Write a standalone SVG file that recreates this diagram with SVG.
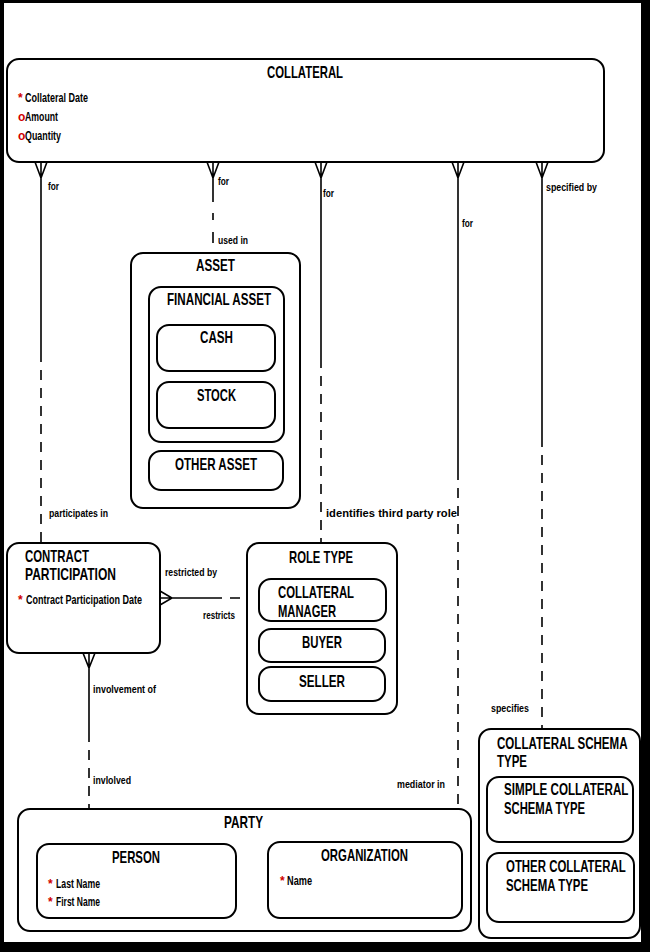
<svg xmlns="http://www.w3.org/2000/svg" width="650" height="952" viewBox="0 0 650 952">
<style>
.box{fill:#fff;stroke:#000;stroke-width:2}
.ln{fill:none;stroke:#000;stroke-width:1.6}
.dl{fill:none;stroke:#000;stroke-width:1.6;stroke-dasharray:10 8}
text{font-family:"Liberation Sans Narrow","Liberation Sans",Arial,sans-serif;fill:#000}
.h{font-size:17px;font-weight:bold}
.a{font-size:12px;font-weight:bold}
.l{font-size:11px;font-weight:bold}
.r{fill:#d00000}
</style>
<rect width="650" height="952" fill="#000"/>
<rect x="4" y="3" width="637" height="939" fill="#fff"/>

<g id="connectors">
  <g id="c-collateral-cp">
    <path class="ln" d="M35,162 L41,178 L47,162 M41,162 V352"/>
    <path class="dl" d="M41,352 V543"/>
    <text class="l" x="48" y="190" textLength="11" lengthAdjust="spacingAndGlyphs">for</text>
    <text class="l" x="49" y="517" textLength="59" lengthAdjust="spacingAndGlyphs">participates in</text>
  </g>
  <g id="c-collateral-asset">
    <path class="ln" d="M207,162 L213,178 L219,162 M213,162 V202 M213,213 V220 M213,232 V243"/>
    <text class="l" x="218" y="185" textLength="11" lengthAdjust="spacingAndGlyphs">for</text>
    <text class="l" x="218" y="244" textLength="30" lengthAdjust="spacingAndGlyphs">used in</text>
  </g>
  <g id="c-collateral-role">
    <path class="ln" d="M315,162 L321,178 L327,162 M321,162 V358"/>
    <path class="dl" d="M321,358 V543"/>
    <text class="l" x="323" y="197" textLength="11" lengthAdjust="spacingAndGlyphs">for</text>
    <text class="l" x="326" y="517" textLength="131" lengthAdjust="spacingAndGlyphs">identifies third party role</text>
  </g>
  <g id="c-collateral-party">
    <path class="ln" d="M452,162 L458,178 L464,162 M458,162 V470"/>
    <path class="dl" d="M458,470 V808"/>
    <text class="l" x="462" y="227" textLength="11" lengthAdjust="spacingAndGlyphs">for</text>
    <text class="l" x="397" y="788" textLength="48" lengthAdjust="spacingAndGlyphs">mediator in</text>
  </g>
  <g id="c-collateral-schema">
    <path class="ln" d="M536,162 L542,178 L548,162 M542,162 V437"/>
    <path class="dl" d="M542,437 V729"/>
    <text class="l" x="546" y="191" textLength="51" lengthAdjust="spacingAndGlyphs">specified by</text>
    <text class="l" x="491" y="712" textLength="38" lengthAdjust="spacingAndGlyphs">specifies</text>
  </g>
  <g id="c-cp-role">
    <path class="ln" d="M160,591 L172,598 L160,605 M160,598 H212"/>
    <path class="dl" d="M212,598 H247"/>
    <text class="l" x="165" y="576" textLength="52" lengthAdjust="spacingAndGlyphs">restricted by</text>
    <text class="l" x="203" y="619" textLength="32" lengthAdjust="spacingAndGlyphs">restricts</text>
  </g>
  <g id="c-cp-party">
    <path class="ln" d="M83,653 L89,668 L95,653 M89,653 V732"/>
    <path class="dl" d="M89,732 V809"/>
    <text class="l" x="93" y="693" textLength="63" lengthAdjust="spacingAndGlyphs">involvement of</text>
    <text class="l" x="93" y="784" textLength="38" lengthAdjust="spacingAndGlyphs">invlolved</text>
  </g>
</g>

<g id="collateral">
  <rect class="box" x="7" y="59" width="597" height="103" rx="12"/>
  <text class="h" x="267" y="78" textLength="76" lengthAdjust="spacingAndGlyphs">COLLATERAL</text>
  <text class="a r" x="18" y="102">*</text>
  <text class="a" x="25" y="102" textLength="63" lengthAdjust="spacingAndGlyphs">Collateral Date</text>
  <text class="a r" x="18" y="121">o</text>
  <text class="a" x="25" y="121" textLength="33" lengthAdjust="spacingAndGlyphs">Amount</text>
  <text class="a r" x="18" y="140">o</text>
  <text class="a" x="25" y="140" textLength="36" lengthAdjust="spacingAndGlyphs">Quantity</text>
</g>

<g id="asset">
  <rect class="box" x="131" y="253" width="169" height="255" rx="12"/>
  <text class="h" x="196" y="271" textLength="39" lengthAdjust="spacingAndGlyphs">ASSET</text>
  <g id="financial-asset">
    <rect class="box" x="149" y="287" width="135" height="155" rx="12"/>
    <text class="h" x="167" y="305" textLength="104" lengthAdjust="spacingAndGlyphs">FINANCIAL ASSET</text>
  </g>
  <g id="cash">
    <rect class="box" x="157" y="325" width="118" height="46" rx="12"/>
    <text class="h" x="200" y="343" textLength="33" lengthAdjust="spacingAndGlyphs">CASH</text>
  </g>
  <g id="stock">
    <rect class="box" x="157" y="382" width="118" height="46" rx="12"/>
    <text class="h" x="197" y="401" textLength="39" lengthAdjust="spacingAndGlyphs">STOCK</text>
  </g>
  <g id="other-asset">
    <rect class="box" x="149" y="451" width="134" height="39" rx="12"/>
    <text class="h" x="175" y="470" textLength="82" lengthAdjust="spacingAndGlyphs">OTHER ASSET</text>
  </g>
</g>

<g id="contract-participation">
  <rect class="box" x="7" y="543" width="153" height="110" rx="12"/>
  <text class="h" x="25" y="562" textLength="64" lengthAdjust="spacingAndGlyphs">CONTRACT</text>
  <text class="h" x="25" y="580" textLength="91" lengthAdjust="spacingAndGlyphs">PARTICIPATION</text>
  <text class="a r" x="18" y="604">*</text>
  <text class="a" x="26" y="604" textLength="116" lengthAdjust="spacingAndGlyphs">Contract Participation Date</text>
</g>

<g id="role-type">
  <rect class="box" x="247" y="543" width="150" height="171" rx="12"/>
  <text class="h" x="289" y="563" textLength="64" lengthAdjust="spacingAndGlyphs">ROLE TYPE</text>
  <g id="collateral-manager">
    <rect class="box" x="259" y="579" width="127" height="42" rx="12"/>
    <text class="h" x="278" y="598" textLength="76" lengthAdjust="spacingAndGlyphs">COLLATERAL</text>
    <text class="h" x="278" y="617" textLength="58" lengthAdjust="spacingAndGlyphs">MANAGER</text>
  </g>
  <g id="buyer">
    <rect class="box" x="259" y="629" width="126" height="33" rx="12"/>
    <text class="h" x="302" y="648" textLength="40" lengthAdjust="spacingAndGlyphs">BUYER</text>
  </g>
  <g id="seller">
    <rect class="box" x="259" y="667" width="126" height="34" rx="12"/>
    <text class="h" x="299" y="687" textLength="46" lengthAdjust="spacingAndGlyphs">SELLER</text>
  </g>
</g>

<g id="party">
  <rect class="box" x="18" y="809" width="453" height="122" rx="12"/>
  <text class="h" x="224" y="828" textLength="39" lengthAdjust="spacingAndGlyphs">PARTY</text>
  <g id="person">
    <rect class="box" x="37" y="844" width="199" height="74" rx="12"/>
    <text class="h" x="112" y="863" textLength="48" lengthAdjust="spacingAndGlyphs">PERSON</text>
    <text class="a r" x="48" y="888">*</text>
    <text class="a" x="56" y="888" textLength="44" lengthAdjust="spacingAndGlyphs">Last Name</text>
    <text class="a r" x="48" y="906">*</text>
    <text class="a" x="56" y="906" textLength="44" lengthAdjust="spacingAndGlyphs">First Name</text>
  </g>
  <g id="organization">
    <rect class="box" x="268" y="842" width="194" height="76" rx="12"/>
    <text class="h" x="321" y="861" textLength="87" lengthAdjust="spacingAndGlyphs">ORGANIZATION</text>
    <text class="a r" x="280" y="885">*</text>
    <text class="a" x="287" y="885" textLength="25" lengthAdjust="spacingAndGlyphs">Name</text>
  </g>
</g>

<g id="collateral-schema-type">
  <rect class="box" x="479" y="729" width="161" height="209" rx="12"/>
  <text class="h" transform="translate(497,749) scale(0.68,1)" x="0" y="0" textLength="192" lengthAdjust="spacingAndGlyphs">COLLATERAL SCHEMA</text>
  <text class="h" x="497" y="767" textLength="30" lengthAdjust="spacingAndGlyphs">TYPE</text>
  <g id="simple-collateral-schema-type">
    <rect class="box" x="487" y="777" width="146" height="65" rx="12"/>
    <text class="h" transform="translate(504,795) scale(0.68,1)" x="0" y="0" textLength="183" lengthAdjust="spacingAndGlyphs">SIMPLE COLLATERAL</text>
    <text class="h" x="504" y="814" textLength="81" lengthAdjust="spacingAndGlyphs">SCHEMA TYPE</text>
  </g>
  <g id="other-collateral-schema-type">
    <rect class="box" x="487" y="853" width="147" height="69" rx="12"/>
    <text class="h" transform="translate(506,872) scale(0.68,1)" x="0" y="0" textLength="176" lengthAdjust="spacingAndGlyphs">OTHER COLLATERAL</text>
    <text class="h" x="506" y="891" textLength="82" lengthAdjust="spacingAndGlyphs">SCHEMA TYPE</text>
  </g>
</g>
</svg>
